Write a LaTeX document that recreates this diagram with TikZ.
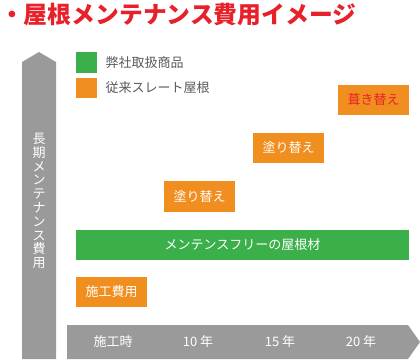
\documentclass[tikz,border=0pt]{standalone}
\usepackage{fontspec}
\setmainfont{Noto Sans CJK JP}
\definecolor{roofgreen}{HTML}{3AAF4A}
\definecolor{rooforange}{HTML}{F08E1F}
\definecolor{axisgray}{HTML}{9A9A9A}
\definecolor{titlered}{HTML}{E8202A}
\definecolor{legendtext}{HTML}{595959}
\begin{document}
\begin{tikzpicture}[x=1pt,y=-1pt,
    costbox/.style={fill=rooforange, text=white, minimum width=71pt, minimum height=30pt, inner sep=0pt, font=\fontsize{13}{13}\selectfont},
    axislabel/.style={text=white, font=\fontsize{13}{13}\selectfont},
    legendlabel/.style={anchor=west, text=legendtext, font=\fontsize{13}{13}\selectfont}]

    % 画面の大きさ
    \useasboundingbox (0,0) rectangle (420,359);

    % タイトル
    \node[anchor=west, text=titlered, inner sep=0pt, font=\fontsize{23.8}{24}\selectfont\bfseries] (title) at (0,15) {・屋根メンテナンス費用イメージ};

    % 縦軸の矢印
    \fill[axisgray] (22,359) -- (22,62) -- (39,52) -- (56,62) -- (56,359) -- cycle;
    \node[axislabel, align=center, inner sep=0pt, font=\fontsize{13}{13.8}\selectfont] (ylabel) at (39,201) {長\\期\\メ\\ン\\テ\\ナ\\ン\\ス\\費\\用};

    % 横軸の矢印
    \fill[axisgray] (67,325) -- (408,325) -- (420,342) -- (408,359) -- (67,359) -- cycle;
    \node[axislabel] (t0) at (113,342) {施工時};
    \node[axislabel] (t10) at (198,342) {10 年};
    \node[axislabel] (t15) at (280,342) {15 年};
    \node[axislabel] (t20) at (361,342) {20 年};

    % 凡例
    \fill[roofgreen] (76,52) rectangle (97,73); % 弊社取扱商品
    \fill[rooforange] (76,78) rectangle (97,98); % 従来スレート屋根
    \node[legendlabel] (leg1) at (102,63) {弊社取扱商品};
    \node[legendlabel] (leg2) at (102,88) {従来スレート屋根};

    % 費用のボックス
    \node[costbox] (install) at (111.5,292) {施工費用};
    \node[costbox, minimum height=31pt] (paint1) at (199.5,196.5) {塗り替え};
    \node[costbox] (paint2) at (288.5,148) {塗り替え};
    \node[costbox, text=titlered] (reroof) at (373.5,100) {葺き替え};

    % メンテナンスフリーの帯
    \node[costbox, fill=roofgreen, minimum width=333pt] (free) at (242.5,245) {メンテンスフリーの屋根材};

\end{tikzpicture}
\end{document}
